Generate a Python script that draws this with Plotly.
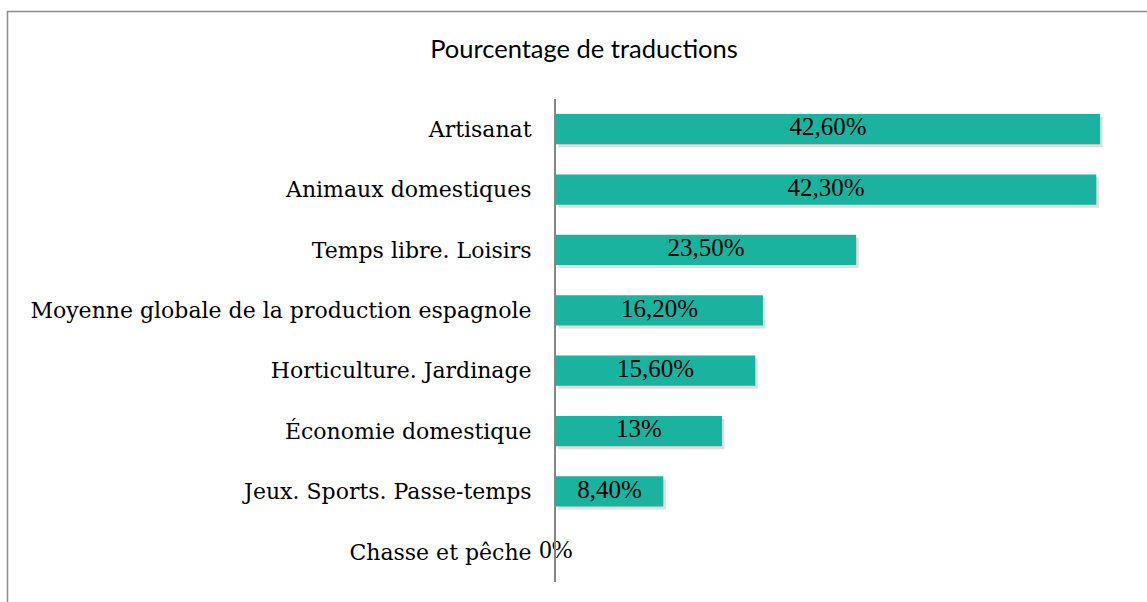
import plotly.graph_objects as go

categories = ["Artisanat", "Animaux domestiques", "Temps libre. Loisirs",
              "Moyenne globale de la production espagnole", "Horticulture. Jardinage",
              "Économie domestique", "Jeux. Sports. Passe-temps", "Chasse et pêche"]
values = [42.6, 42.3, 23.5, 16.2, 15.6, 13.0, 8.4, 0.0]
labels = ["42,60%", "42,30%", "23,50%", "16,20%", "15,60%", "13%", "8,40%", "0%"]

W, H = 1147, 602
L, R, T, B = 556, 29, 99, 20
pw, ph = W - L - R, H - T - B
XMAX = 44
ncat = len(categories)
px_per_unit = pw / XMAX
px_per_cat = ph / ncat
bar_w = 0.5

fig = go.Figure()
# soft drop shadow
fig.add_trace(go.Bar(
    x=values, y=categories, orientation="h",
    base=2.5 / px_per_unit, width=bar_w, offset=-bar_w / 2 - 3 / px_per_cat,
    marker=dict(color="rgba(0,0,0,0.13)", line=dict(width=0)),
    hoverinfo="skip", showlegend=False,
))
fig.add_trace(go.Bar(
    x=values, y=categories, orientation="h",
    width=bar_w, offset=-bar_w / 2,
    marker=dict(color="#1ab3a0", line=dict(width=0)),
    hoverinfo="skip", showlegend=False,
))
fig.add_trace(go.Scatter(
    x=[v / 2 for v in values], y=categories, mode="text", text=labels,
    textfont=dict(family="Liberation Serif", size=25, color="#000000"),
    textposition="middle center", hoverinfo="skip", showlegend=False,
    cliponaxis=False,
))

def px_x(p):
    return (p - L) / pw

def px_y(p):
    return (H - B - p) / ph

fig.add_shape(type="rect", xref="paper", yref="paper",
              x0=px_x(7.5), x1=px_x(W + 20), y0=px_y(H + 20), y1=px_y(11.5),
              line=dict(color="#8c8c8c", width=1.5), fillcolor="rgba(0,0,0,0)", layer="below")

fig.update_layout(
    width=W, height=H,
    margin=dict(l=L, r=R, t=T, b=B, autoexpand=False),
    paper_bgcolor="white", plot_bgcolor="white",
    barmode="overlay",
    title=dict(text="Pourcentage de traductions", x=584 / W, xanchor="center",
               y=1 - 49 / H, yanchor="middle",
               font=dict(family="Lato", size=25.5, color="#000000")),
    xaxis=dict(range=[0, XMAX], showgrid=False, zeroline=False, showticklabels=False,
               showline=False, ticks="", automargin=False),
    yaxis=dict(categoryorder="array", categoryarray=categories[::-1],
               autorange=False, range=[-0.5, ncat - 0.5],
               showgrid=False, zeroline=False, showline=True, linecolor="#868686",
               linewidth=2, ticks="", ticklabelstandoff=18, automargin=False,
               tickfont=dict(family="DejaVu Serif", size=22, color="#000000")),
)
fig.write_html("out.html", config={"displayModeBar": False},
               post_script="document.body.style.margin='0';")
